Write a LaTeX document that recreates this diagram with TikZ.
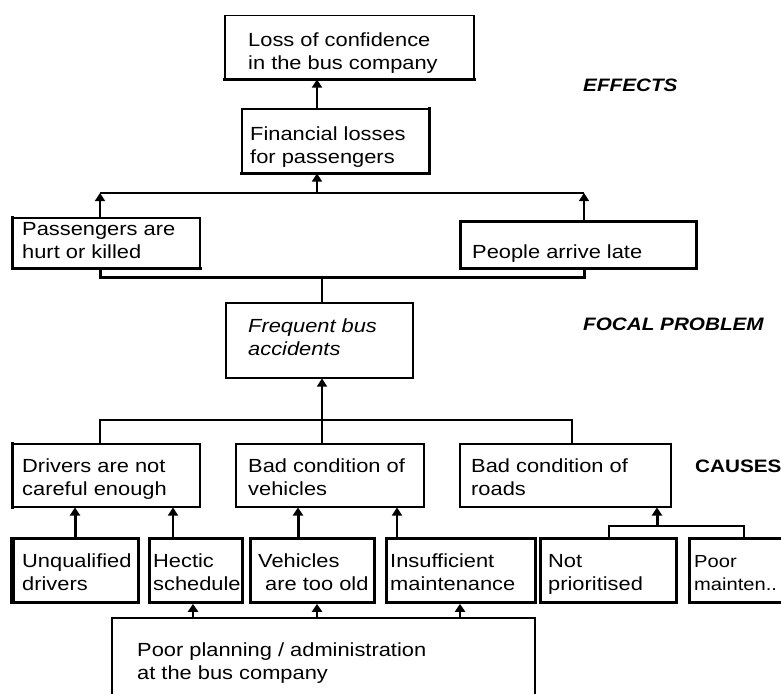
\documentclass[tikz,border=0pt]{standalone}
\usepackage{fontspec}
\setmainfont{Liberation Sans}[FakeStretch=1.15]
\usetikzlibrary{arrows.meta}
\begin{document}
\begin{tikzpicture}[x=1pt,y=-1pt,
  box/.style={draw, rectangle, line width=1.5pt, inner sep=0pt, anchor=north west},
  heavybox/.style={box, line width=2.8pt},
  heavy/.style={line width=3pt, line cap=rect},
  link/.style={line width=1.5pt},
  boldlink/.style={line width=3pt},
  arr/.style={link, -{Triangle[width=10pt,length=8pt]}},
  planarr/.style={line width=2pt, -{Triangle[width=10pt,length=8pt]}},
  boldarr/.style={boldlink, -{Triangle[width=10pt,length=8pt]}},
  % the base anchor of a multi-line text sits on its last line
  txt/.style={anchor=base west, align=left, inner sep=0pt, font=\fontsize{19}{23}\selectfont},
  sidetag/.style={anchor=base west, inner sep=0pt, font=\fontsize{18}{22}\selectfont\bfseries}
]
\useasboundingbox (0,0) rectangle (781,693);
\clip (0,0) rectangle (781,693);

% ---- effects ----
\node[box, minimum width=249pt, minimum height=63pt] (loss) at (224,15) {};
\node[box, minimum width=187pt, minimum height=64pt] (fin) at (241,108) {};
\node[box, minimum width=187pt, minimum height=50pt] (pass) at (12,217) {};
\node[heavybox, minimum width=236pt, minimum height=47pt] (people) at (459,220) {};
\draw[heavy] (loss.south west) -- (loss.south east);
\draw[heavy] (fin.north east) -- (fin.south east) -- (fin.south west);
\draw[heavy] (pass.north west) -- (pass.south west) -- (pass.south east);

% ---- focal problem ----
\node[box, minimum width=187pt, minimum height=75pt] (focal) at (225,302) {};

% ---- direct causes ----
\node[box, minimum width=187pt, minimum height=63pt] (drivers) at (12,443) {};
\node[box, minimum width=188pt, minimum height=63pt] (vehic) at (235,443) {};
\node[box, minimum width=211pt, minimum height=63pt] (roads) at (459,443) {};
\draw[heavy] (drivers.north west) -- (drivers.south west);

% ---- root causes ----
\node[heavybox, minimum width=125pt, minimum height=64pt] (unq) at (12,537) {};
\node[heavybox, minimum width=93pt, minimum height=64pt] (hectic) at (148,537) {};
\node[heavybox, minimum width=124pt, minimum height=64pt] (old) at (249,537) {};
\node[heavybox, minimum width=149pt, minimum height=64pt] (insuf) at (385,537) {};
\node[heavybox, minimum width=136pt, minimum height=64pt] (notp) at (539,537) {};
\node[heavybox, minimum width=120pt, minimum height=64pt] (poorm) at (688,537) {};
\draw[line width=4pt] (unq.north west) -- (unq.south west);
\node[box, minimum width=423pt, minimum height=90pt] (plan) at (111,617) {};

% ---- texts ----
\node[txt] (loss-t) at (248,70) {Loss of confidence\\in the bus company};
\node[txt] (fin-t) at (250,163) {Financial losses\\for passengers};
\node[txt] (pass-t) at (22,258) {Passengers are\\hurt or killed};
\node[txt] (people-t) at (472,258) {People arrive late};
\node[txt, font=\fontsize{19}{23}\selectfont\itshape] (focal-t) at (248,355) {Frequent bus\\accidents};
\node[txt] (drivers-t) at (22,495) {Drivers are not\\careful enough};
\node[txt] (vehic-t) at (248,495) {Bad condition of\\vehicles};
\node[txt] (roads-t) at (471,495) {Bad condition of\\roads};
\node[txt] (unq-t) at (22,590) {Unqualified\\drivers};
\node[txt] (hec-t) at (153,590) {Hectic\\schedule};
\node[txt] (old-t) at (258,590) {Vehicles\\\hspace*{7pt}are too old};
\node[txt] (ins-t) at (390,590) {Insufficient\\maintenance};
\node[txt] (notp-t) at (548,590) {Not\\prioritised};
\node[txt, font=\fontsize{17.5}{23}\selectfont] (poorm-t) at (694,590) {Poor\\mainten..};
\node[txt] (plan-t) at (137,679) {Poor planning / administration\\at the bus company};

\node[sidetag, font=\fontsize{18}{22}\selectfont\bfseries\itshape] (effects) at (583,92) {EFFECTS};
\node[sidetag, font=\fontsize{18}{22}\selectfont\bfseries\itshape] (focal-l) at (583,330) {FOCAL PROBLEM};
\node[sidetag] (causes) at (695,472) {CAUSES};

% ---- connectors: effects ----
\coordinate (e-mid) at (317,193);
\coordinate (e-left) at (100,193);
\coordinate (e-right) at (584,193);
\draw[link] (e-left) -- (e-right);
\draw[arr] (e-mid |- fin.north) -- (e-mid |- loss.south);
\draw[arr] (e-mid) -- (e-mid |- fin.south);
\draw[arr] (e-left |- pass.north) -- (e-left);
\draw[arr] (e-right |- people.north) -- (e-right);

\coordinate (f-left) at (100,277);
\coordinate (f-mid) at (322,277);
\coordinate (f-right) at (584,277);
\draw[boldlink] (f-left |- pass.south) -- (f-left) -- (f-right) -- (f-right |- people.south);
\draw[link] (f-mid) -- (f-mid |- focal.north);

% ---- connectors: causes ----
\coordinate (g-left) at (100,420);
\coordinate (g-mid) at (322,420);
\coordinate (g-right) at (572,420);
\draw[link] (g-left |- drivers.north) -- (g-left) -- (g-right) -- (g-right |- roads.north);
\draw[arr] (g-mid |- vehic.north) -- (g-mid |- focal.south);

\coordinate (k-unq) at (75,537);
\coordinate (k-hec) at (173,537);
\coordinate (k-old) at (298,537);
\coordinate (k-ins) at (397,537);
\draw[boldarr] (k-unq) -- (k-unq |- drivers.south);
\draw[arr] (k-hec) -- (k-hec |- drivers.south);
\draw[boldarr] (k-old) -- (k-old |- vehic.south);
\draw[arr] (k-ins) -- (k-ins |- vehic.south);

\coordinate (r-left) at (609,526);
\coordinate (r-mid) at (657,526);
\coordinate (r-right) at (744,526);
\draw[link] (r-left |- notp.north) -- (r-left) -- (r-right) -- (r-right |- poorm.north);
\draw[boldarr] (r-mid) -- (r-mid |- roads.south);

\coordinate (p-hec) at (193,617);
\coordinate (p-old) at (317,617);
\coordinate (p-ins) at (460,617);
\draw[planarr] (p-hec) -- (p-hec |- hectic.south);
\draw[planarr] (p-old) -- (p-old |- old.south);
\draw[planarr] (p-ins) -- (p-ins |- insuf.south);
\end{tikzpicture}
\end{document}
